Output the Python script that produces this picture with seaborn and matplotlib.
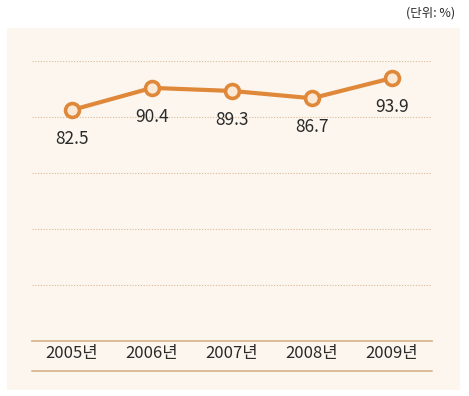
import matplotlib
matplotlib.use("Agg")
import matplotlib.pyplot as plt
from matplotlib.patches import Rectangle
import numpy as np
import pandas as pd
import seaborn as sns

years = ["2005년", "2006년", "2007년", "2008년", "2009년"]
rates = [82.5, 90.4, 89.3, 86.7, 93.9]
grid_vals = [20, 40, 60, 80, 100]

ORANGE = "#E0883A"
TAN = "#D8B68E"
BG = "#FDF6EE"

sns.set_theme(style="white")
plt.rcParams["font.family"] = ["Noto Sans CJK KR", "DejaVu Sans"]

W, H = 469, 396
fig = plt.figure(figsize=(W / 100, H / 100), dpi=100)
fig.patch.set_facecolor("white")
fig.patches.append(Rectangle((7 / W, 1 - 390 / H), 453 / W, 362 / H,
                             transform=fig.transFigure, facecolor=BG,
                             edgecolor="none", zorder=-5))

ax = fig.add_axes([32 / W, 1 - 341 / H, 400 / W, 280 / H])
ax.set_facecolor("none")
ax.set_zorder(2)

df = pd.DataFrame({"x": np.arange(len(years)), "y": rates})
sns.lineplot(data=df, x="x", y="y", ax=ax, color=ORANGE, lw=3,
             marker="o", markersize=10, markerfacecolor="#FBE9D6",
             markeredgecolor=ORANGE, markeredgewidth=2.6, clip_on=False, zorder=5)

for g in grid_vals:
    ax.axhline(g, color="#D9B99A", lw=0.8, ls=(0, (1, 1.5)), zorder=1)

for i, v in enumerate(rates):
    ax.annotate(f"{v:.1f}", (i, v), xytext=(0, -21), textcoords="offset points",
                ha="center", va="center", fontsize=12.5, color="#2a2a2a")

ax.set_xlim(-0.5, len(years) - 0.5)
ax.set_ylim(0, 100)
ax.set_xticks(np.arange(len(years)))
ax.set_xticklabels(years, fontsize=12, color="#2a2a2a")
ax.tick_params(axis="x", length=0, pad=3)
ax.set_yticks([])
ax.set_xlabel("")
ax.set_ylabel("")
for s in ["top", "left", "right"]:
    ax.spines[s].set_visible(False)
ax.spines["bottom"].set_color(TAN)
ax.spines["bottom"].set_linewidth(1.3)

# lower rule under the year labels
fig.add_artist(plt.Line2D([32 / W, 432 / W], [1 - 371 / H, 1 - 371 / H],
                          transform=fig.transFigure, color=TAN, lw=1.3))

fig.text(455 / W, 1 - 13 / H, "(단위: %)", ha="right", va="center",
         fontsize=9, color="#2a2a2a")

fig.savefig("out.png", dpi=100)
